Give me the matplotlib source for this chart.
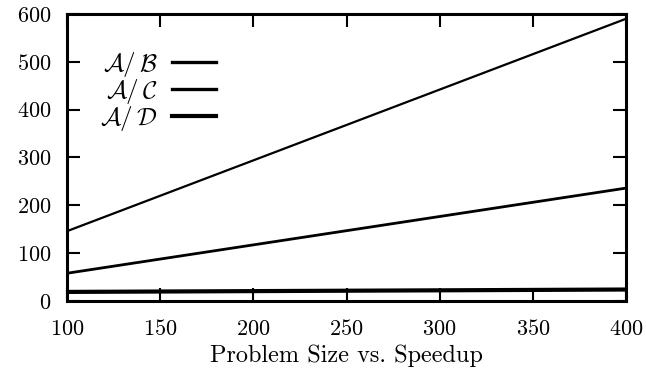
import matplotlib
matplotlib.use("Agg")
import matplotlib.pyplot as plt

plt.rcParams["font.family"] = ["cmr10", "DejaVu Serif"]
plt.rcParams["mathtext.fontset"] = "cm"
plt.rcParams["axes.formatter.use_mathtext"] = True

problem_size = [100, 400]
speedup_ab = [146, 590]
speedup_ac = [58, 236]
speedup_ad = [19, 24]
labels = [r"$\mathcal{A}/\,\mathcal{B}$", r"$\mathcal{A}/\,\mathcal{C}$", r"$\mathcal{A}/\,\mathcal{D}$"]
xticks = [100, 150, 200, 250, 300, 350, 400]
yticks = [0, 100, 200, 300, 400, 500, 600]

fig = plt.figure(figsize=(6.46, 3.73), dpi=100)
ax = fig.add_axes([67 / 646, 1 - 301 / 373, (626 - 67) / 646, (301 - 14) / 373])

ax.plot(problem_size, speedup_ab, color="black", lw=1.6, label=labels[0])
ax.plot(problem_size, speedup_ac, color="black", lw=2.0, label=labels[1])
ax.plot(problem_size, speedup_ad, color="black", lw=3.0, label=labels[2])

ax.set_xlim(100, 400)
ax.set_ylim(0, 600)
ax.set_xticks(xticks)
ax.set_yticks(yticks)
ax.tick_params(direction="in", length=9.5, width=1.5, top=True, right=True,
               labelsize=16)
ax.tick_params(axis="x", pad=13)
ax.tick_params(axis="y", pad=11)
for s in ax.spines.values():
    s.set_linewidth(2.2)

ax.set_xlabel("Problem Size vs. Speedup", fontsize=17.5, labelpad=4)

leg = ax.legend(loc="upper left", bbox_to_anchor=(0.037, 0.918), frameon=False,
                markerfirst=False, fontsize=18, handlelength=1.75,
                handletextpad=0.6, labelspacing=-0.08, borderpad=0)
for h in leg.get_lines():
    h.set_linewidth(2.4)
leg.get_lines()[2].set_linewidth(3.0)

fig.savefig("out.png", dpi=100)
